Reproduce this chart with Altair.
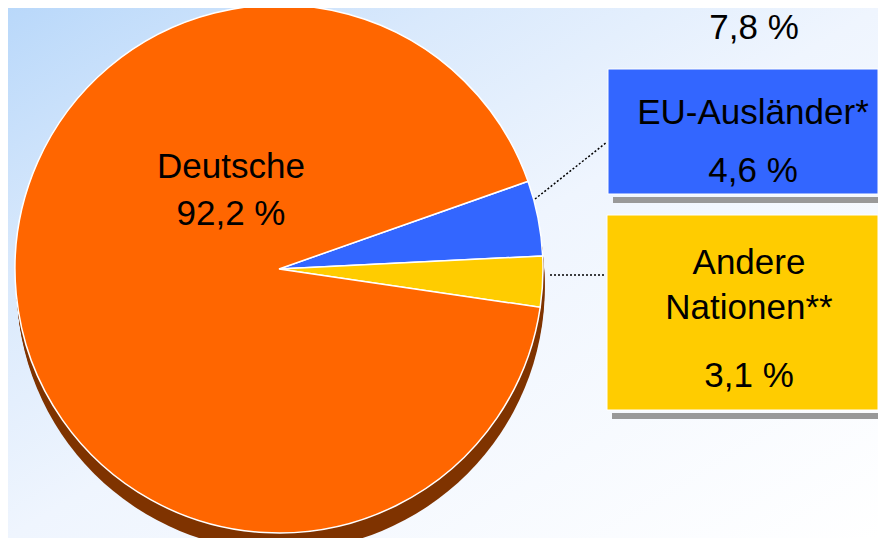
import math
import altair as alt
import pandas as pd

# ---- data ----
categories = ["EU-Ausländer*", "Andere Nationen**", "Deutsche"]
values = [4.6, 3.1, 92.2]
colors = ["#3366FF", "#FFCC00", "#FF6600"]
foreign_total = 7.8

def fmt(v):
    return f"{v:.1f}".replace(".", ",") + " %"

# ---- layout (pixels, chart coordinates) ----
W, H = 870, 530
CX, CY, R = 271, 261, 264
START = math.radians(70.6)
FONT = "Liberation Sans"
FS = 35

pie_df = pd.DataFrame({"cat": categories, "value": values, "idx": [0, 1, 2]})

bg = alt.Chart(pd.DataFrame({"a": [0]})).mark_rect(
    color=alt.LinearGradient(
        gradient="linear",
        stops=[
            alt.GradientStop(color="#B9D8FA", offset=0),
            alt.GradientStop(color="#D9E9FC", offset=0.25),
            alt.GradientStop(color="#EFF5FE", offset=0.5),
            alt.GradientStop(color="#FFFFFF", offset=1),
        ],
        x1=0, y1=0, x2=1, y2=1,
    )
).encode(x=alt.value(0), x2=alt.value(W), y=alt.value(0), y2=alt.value(H))

shadow_df = pd.DataFrame({"off": list(range(2, 19, 2))})
shadow = alt.Chart(shadow_df).transform_calculate(
    sx=f"{CX} + datum.off * 0.1", sy=f"{CY} + datum.off"
).mark_arc(theta=0, theta2=2 * math.pi, radius=R, color="#7F3300").encode(
    x=alt.X("sx:Q", scale=None, axis=None),
    y=alt.Y("sy:Q", scale=None, axis=None),
)

pie = alt.Chart(pie_df).mark_arc(radius=R, stroke="white", strokeWidth=1.5).encode(
    theta=alt.Theta("value:Q", stack=True,
                    scale=alt.Scale(range=[START, START + 2 * math.pi])),
    color=alt.Color("cat:N", scale=alt.Scale(domain=categories, range=colors), legend=None),
    order=alt.Order("idx:Q"),
    x=alt.value(CX),
    y=alt.value(CY),
)

# leader lines
lines_df = pd.DataFrame({
    "x": [527, 542], "y": [191, 267], "x2": [599, 597], "y2": [134, 267]
})
lines = alt.Chart(lines_df).mark_rule(color="black", strokeWidth=1.5, strokeDash=[2, 2]).encode(
    x=alt.X("x:Q", scale=None, axis=None), y=alt.Y("y:Q", scale=None, axis=None),
    x2="x2:Q", y2="y2:Q",
)

# box shadows and boxes
boxes_df = pd.DataFrame({
    "cat": [categories[0], categories[1]],
    "x": [600, 599], "x2": [W, W], "y": [61, 207], "y2": [186, 402],
})
box_shadow = alt.Chart(boxes_df).transform_calculate(
    sx="datum.x + 5", sy="datum.y2 + 3", sy2="datum.y2 + 9"
).mark_rect(color="#999999").encode(
    x=alt.X("sx:Q", scale=None, axis=None), x2="x2:Q",
    y=alt.Y("sy:Q", scale=None, axis=None), y2="sy2:Q",
)
boxes = alt.Chart(boxes_df).mark_rect(stroke="white", strokeWidth=1).encode(
    x=alt.X("x:Q", scale=None, axis=None), x2="x2:Q",
    y=alt.Y("y:Q", scale=None, axis=None), y2="y2:Q",
    color=alt.Color("cat:N", scale=alt.Scale(domain=categories, range=colors), legend=None),
)

texts_df = pd.DataFrame({
    "t": [fmt(foreign_total), "EU-Ausländer*", fmt(values[0]), "Andere", "Nationen**",
          fmt(values[1]), "Deutsche", fmt(values[2])],
    "x": [746, 745, 745, 741, 741, 741, 223, 223],
    "y": [31, 116, 174, 266, 311, 379, 170, 217],
})
texts = alt.Chart(texts_df).mark_text(
    font=FONT, fontSize=FS, color="black", align="center", baseline="alphabetic"
).encode(
    x=alt.X("x:Q", scale=None, axis=None), y=alt.Y("y:Q", scale=None, axis=None),
    text="t:N",
)

chart = alt.layer(bg, shadow, pie, lines, box_shadow, boxes, texts).properties(
    width=W, height=H, padding=0, autosize=alt.AutoSizeParams(type="none")
).configure_view(strokeWidth=0).resolve_scale(color="independent")

chart.save("out.html", embed_options={"renderer": "svg", "actions": False})
